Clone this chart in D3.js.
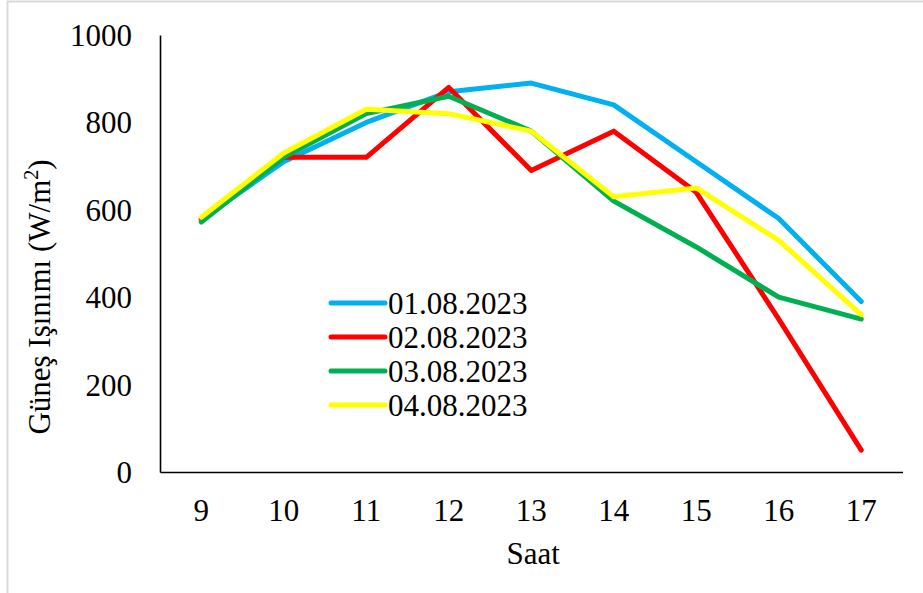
<!DOCTYPE html>
<html>
<head>
<meta charset="utf-8">
<script src="https://cdn.jsdelivr.net/npm/d3@7"></script>
<style>
  html, body { margin: 0; padding: 0; background: #fff; }
  svg { display: block; }
  svg text { font-family: "Times New Roman", "Liberation Serif", "DejaVu Serif", serif !important; fill: #000; }
</style>
</head>
<body>
<svg id="chart" width="923" height="593"></svg>
<script>
// Hours of the day
const hours = ["9", "10", "11", "12", "13", "14", "15", "16", "17"];

// Solar irradiance (W/m²) per day
const day1 = [578, 710, 800, 870, 890, 840, 710, 580, 390];
const day2 = [580, 720, 720, 880, 690, 780, 640, 350, 50];
const day3 = [572, 720, 820, 860, 780, 620, 515, 400, 350];
const day4 = [583, 730, 830, 820, 780, 630, 650, 530, 360];

const seriesNames = ["01.08.2023", "02.08.2023", "03.08.2023", "04.08.2023"];
const seriesColors = ["#00B0F0", "#FF0000", "#00B050", "#FFFF00"];
const yTicks = [0, 200, 400, 600, 800, 1000];

const series = [day1, day2, day3, day4].map((vals, i) => ({
  name: seriesNames[i], color: seriesColors[i], values: vals
}));

const serif = "'Times New Roman', 'Liberation Serif', 'DejaVu Serif', serif";
const svg = d3.select("#chart").attr("font-family", serif);

// light frame around the figure
svg.append("rect")
  .attr("x", 7.5).attr("y", 1.5)
  .attr("width", 930).attr("height", 600)
  .attr("fill", "none").attr("stroke", "#d9d9d9").attr("stroke-width", 2);

const plot = { left: 160, right: 902.5, top: 35, bottom: 472 };

const x = d3.scaleBand().domain(hours).range([plot.left, plot.right]);
const y = d3.scaleLinear().domain([0, 1000]).range([plot.bottom, plot.top]);

// y axis
const yAxis = svg.append("g")
  .attr("transform", `translate(${plot.left},0)`)
  .call(d3.axisLeft(y).tickValues(yTicks).tickFormat(d3.format("d"))
    .tickSize(0).tickSizeOuter(0).tickPadding(28));
yAxis.attr("font-family", serif);
yAxis.select(".domain").attr("stroke", "#000").attr("stroke-width", 1.6);
yAxis.selectAll(".tick text")
  .attr("font-size", 31).attr("dy", "0.34em");

// x axis
const xAxis = svg.append("g")
  .attr("transform", `translate(0,${plot.bottom})`)
  .call(d3.axisBottom(x).tickSize(0).tickSizeOuter(0).tickPadding(27));
xAxis.attr("font-family", serif);
xAxis.select(".domain").attr("stroke", "#000").attr("stroke-width", 1.6);
xAxis.selectAll(".tick text")
  .attr("font-size", 31);

// axis titles
svg.append("text")
  .attr("x", (plot.left + plot.right) / 2 + 2)
  .attr("y", 564)
  .attr("text-anchor", "middle")
  .attr("font-size", 31)
  .text("Saat");

const yTitle = svg.append("text")
  .attr("transform", "translate(50,297) rotate(-90)")
  .attr("text-anchor", "middle")
  .attr("font-size", 31);
yTitle.append("tspan").text("Güneş Işınımı (W/m");
yTitle.append("tspan").attr("font-size", 20).attr("dy", -12).text("2");
yTitle.append("tspan").attr("dy", 12).text(")");

// lines
const line = d3.line()
  .x((d, i) => x(hours[i]) + x.bandwidth() / 2)
  .y(d => y(d));

svg.append("g").selectAll("path")
  .data(series)
  .join("path")
  .attr("d", d => line(d.values))
  .attr("fill", "none")
  .attr("stroke", d => d.color)
  .attr("stroke-width", 5)
  .attr("stroke-linejoin", "round")
  .attr("stroke-linecap", "round");

// legend
const legend = svg.append("g");
const legendRows = legend.selectAll("g")
  .data(series)
  .join("g")
  .attr("transform", (d, i) => `translate(331,${303 + i * 34})`);
legendRows.append("line")
  .attr("x1", 0).attr("x2", 54)
  .attr("y1", 0).attr("y2", 0)
  .attr("stroke", d => d.color)
  .attr("stroke-width", 5)
  .attr("stroke-linecap", "round");
legendRows.append("text")
  .attr("x", 57).attr("dy", "0.34em")
  .attr("font-size", 31)
  .text(d => d.name);
</script>
</body>
</html>
